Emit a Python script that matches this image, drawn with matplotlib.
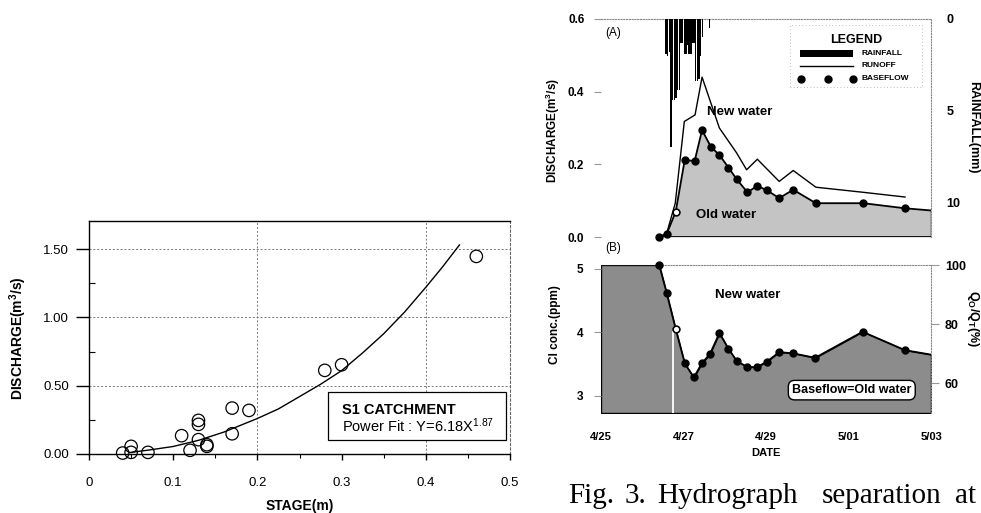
import numpy as np
import matplotlib
matplotlib.use('Agg')
import matplotlib.pyplot as plt
from matplotlib.patches import Rectangle

plt.rcParams['font.family'] = ['Liberation Sans', 'DejaVu Sans']
plt.rcParams['mathtext.default'] = 'regular'

# ---- rating curve data (left panel)
stage = [0.04, 0.05, 0.05, 0.07, 0.11, 0.12, 0.13, 0.13, 0.13, 0.14, 0.14, 0.17, 0.17, 0.19, 0.28, 0.30, 0.46]
discharge = [0.007, 0.056, 0.012, 0.012, 0.134, 0.027, 0.246, 0.217, 0.105, 0.056, 0.068, 0.336, 0.148, 0.319, 0.612, 0.653, 1.446]
# fitted curve as drawn
fit_x = [0.05, 0.07, 0.10, 0.13, 0.16, 0.20, 0.225, 0.25, 0.275, 0.30, 0.325, 0.35, 0.375, 0.40, 0.42, 0.44]
fit_y = [0.012, 0.028, 0.055, 0.10, 0.16, 0.26, 0.33, 0.42, 0.51, 0.61, 0.74, 0.88, 1.04, 1.22, 1.37, 1.53]
stage_ticks = [0, 0.1, 0.2, 0.3, 0.4, 0.5]
stage_labels = ['0', '0.1', '0.2', '0.3', '0.4', '0.5']
q_ticks = [0, 0.5, 1.0, 1.5]
q_labels = ['0.00', '0.50', '1.00', '1.50']
grid_x = [0.2, 0.4]

# ---- hydrograph (days after 4/25 00:00)
base_day = [1.41, 1.59, 1.81, 2.03, 2.27, 2.45, 2.67, 2.87, 3.09, 3.29, 3.55, 3.79, 4.03, 4.32, 4.66, 5.21, 6.36, 7.37, 8.0]
base_q = [0.0, 0.008, 0.069, 0.212, 0.209, 0.294, 0.247, 0.226, 0.191, 0.159, 0.123, 0.141, 0.128, 0.107, 0.130, 0.093, 0.093, 0.079, 0.073]
run_day = [1.41, 1.59, 1.80, 2.02, 2.28, 2.45, 2.87, 3.29, 3.53, 3.79, 4.32, 4.66, 5.21, 6.36, 7.37]
run_q = [0.0, 0.009, 0.093, 0.318, 0.336, 0.44, 0.30, 0.231, 0.185, 0.214, 0.153, 0.183, 0.137, 0.123, 0.110]
rain_day = [1.56, 1.60, 1.64, 1.68, 1.72, 1.76, 1.80, 1.84, 1.88, 1.92, 1.96, 2.00, 2.04, 2.08,
            2.12, 2.16, 2.20, 2.24, 2.28, 2.32, 2.36, 2.40, 2.44, 2.62]
rain_mm = [1.9, 2.0, 1.8, 7.0, 4.4, 4.4, 4.3, 3.9, 3.9, 1.3, 1.3, 1.9, 1.9, 1.4,
           1.9, 1.9, 1.3, 1.3, 3.4, 3.4, 3.3, 2.0, 1.0, 0.5]

cl_day = [0.0, 1.41, 1.59, 1.81, 2.03, 2.25, 2.44, 2.64, 2.87, 3.09, 3.29, 3.53, 3.77, 4.02, 4.32, 4.66, 5.19, 6.34, 7.37, 8.0]
cl_ppm = [5.06, 5.06, 4.62, 4.05, 3.51, 3.29, 3.51, 3.66, 3.99, 3.74, 3.55, 3.46, 3.45, 3.54, 3.69, 3.67, 3.60, 4.01, 3.72, 3.65]
date_ticks = [0, 2, 4, 6, 8]
date_labels = ['4/25', '4/27', '4/29', '5/01', '5/03']

W, H = 981, 513
fig = plt.figure(figsize=(W / 100, H / 100), dpi=100)


def fx(x):
    return x / W


def fy(y):
    return 1 - y / H


def box(x0, y0, x1, y1):
    return [fx(x0), fy(y1), fx(x1) - fx(x0), fy(y0) - fy(y1)]


def dotted_spines(ax):
    for s in ['left', 'bottom']:
        ax.spines[s].set_visible(False)
    for s in ['top', 'right']:
        ax.spines[s].set_linestyle((0, (1, 1.5)))
        ax.spines[s].set_color('#888888')
        ax.spines[s].set_linewidth(0.8)


# ================= left panel
ax1 = fig.add_axes(box(89, 221, 510, 454))
ax1.set_xlim(0, 0.5)
ax1.set_ylim(0, 1.705)
ax1.plot(fit_x, fit_y, color='black', lw=1.0, zorder=2)
ax1.scatter(stage, discharge, s=80, facecolors='none', edgecolors='black', lw=0.9, clip_on=False, zorder=3)
ax1.set_xticks(stage_ticks)
ax1.set_xticklabels(stage_labels)
ax1.set_yticks(q_ticks)
ax1.set_yticklabels(q_labels)
ax1.set_xticks([0.05, 0.15, 0.25, 0.35, 0.45], minor=True)
ax1.set_yticks([0.25, 0.75, 1.25], minor=True)
ax1.tick_params(axis='y', which='major', length=9.5, width=1, pad=5, labelsize=9.5)
ax1.tick_params(axis='x', which='major', length=4.5, width=1, pad=12, labelsize=9.5)
ax1.tick_params(axis='y', which='minor', direction='in', length=4, width=0.8)
ax1.tick_params(axis='x', which='minor', direction='out', length=3, width=0.8)
for v in q_ticks[1:]:
    ax1.axhline(v, color='#777777', lw=0.7, ls=(0, (2, 2)), zorder=1)
for v in grid_x:
    ax1.axvline(v, color='#777777', lw=0.7, ls=(0, (2, 2)), zorder=1)
ax1.spines['right'].set_linestyle((0, (2, 2)))
ax1.spines['right'].set_color('#666666')
ax1.spines['right'].set_linewidth(0.8)
for s in ['left', 'bottom', 'top']:
    ax1.spines[s].set_linewidth(1.0)
ax1.set_xlabel('STAGE(m)', fontsize=10, fontweight='bold', labelpad=7)
fig.text(fx(18), fy(338), 'DISCHARGE(m$^{3}$/s)', fontsize=10, fontweight='bold',
         rotation=90, ha='center', va='center')

# fit label box
fig.patches.append(Rectangle((fx(328), fy(440)), fx(506) - fx(328), fy(392) - fy(440),
                             transform=fig.transFigure, facecolor='white', edgecolor='black', lw=0.9, zorder=5))
fig.text(fx(342), fy(410), 'S1 CATCHMENT', fontsize=10.5, fontweight='bold', va='center', ha='left', zorder=6)
fig.text(fx(342), fy(426), 'Power Fit : Y=6.18X$^{1.87}$', fontsize=10.5, va='center', ha='left', zorder=6)

# ================= top right panel
ax2 = fig.add_axes(box(601, 19, 931, 237))
ax2.set_xlim(0, 8)
ax2.set_ylim(0, 0.6)
ax2.fill_between(base_day, base_q, 0, color='#c4c4c4', lw=0, zorder=1)
ax2.plot([base_day[0], base_day[-1]], [0, 0], color='black', lw=1.3, zorder=2)
ax2.plot([base_day[-1], base_day[-1]], [0, base_q[-1]], color='black', lw=1.0, zorder=2)
ax2.plot(run_day, run_q, color='black', lw=1.0, zorder=3)
ax2.plot(base_day, base_q, color='black', lw=1.3, zorder=3)
ax2.plot(base_day[:-1], base_q[:-1], ls='none', marker='o', ms=5, color='black', zorder=4, clip_on=False)
ax2.plot(base_day[2], base_q[2], ls='none', marker='o', ms=4.5, mfc='white', mec='black', mew=0.8, zorder=5)
ax2.set_yticks([0.0, 0.2, 0.4, 0.6])
ax2.set_yticklabels(['0.0', '0.2', '0.4', '0.6'], fontweight='bold')
ax2.set_xticks([])
ax2.tick_params(axis='y', length=5, color='#999999', pad=7, labelsize=8.5)
dotted_spines(ax2)
fig.text(fx(553), fy(130), 'DISCHARGE(m$^{3}$/s)', fontsize=8.5, fontweight='bold',
         rotation=90, ha='center', va='center')
ax2.text(3.37, 0.344, 'New water', fontsize=9.5, fontweight='bold', ha='center', va='center', zorder=6)
ax2.text(3.03, 0.06, 'Old water', fontsize=9.5, fontweight='bold', ha='center', va='center', zorder=6)

ax2r = ax2.twinx()
ax2r.set_ylim(11.9, 0)
ax2r.bar(rain_day, rain_mm, width=0.034, align='edge', color='black', zorder=2)
ax2r.set_yticks([0, 5, 10])
ax2r.set_yticklabels(['0', '5', '10'], fontweight='bold')
ax2r.tick_params(axis='y', length=0, pad=11, labelsize=9)
for s in ['left', 'bottom', 'top', 'right']:
    ax2r.spines[s].set_visible(False)
fig.text(fx(973), fy(127), 'RAINFALL(mm)', fontsize=9, fontweight='bold',
         rotation=270, ha='center', va='center')

# legend (drawn by hand as in the original)
fig.patches.append(Rectangle((fx(790), fy(87)), fx(922) - fx(790), fy(25) - fy(87),
                             transform=fig.transFigure, facecolor='white', edgecolor='#aaaaaa',
                             lw=0.6, ls=(0, (1, 3)), zorder=5))
fig.text(fx(856), fy(40), 'LEGEND', fontsize=9, fontweight='bold', ha='center', va='center', zorder=6)
fig.patches.append(Rectangle((fx(800), fy(57)), fx(853) - fx(800), fy(50) - fy(57),
                             transform=fig.transFigure, facecolor='black', lw=0, zorder=6))
fig.lines.append(plt.Line2D([fx(800), fx(853)], [fy(65.5), fy(65.5)], transform=fig.transFigure,
                            color='black', lw=1.0, zorder=6))
fig.lines.append(plt.Line2D([fx(801), fx(828), fx(853)], [fy(79), fy(79), fy(79)], transform=fig.transFigure,
                            ls='none', marker='o', ms=5, color='black', zorder=6))
for yy, t in [(53.5, 'RAINFALL'), (65.5, 'RUNOFF'), (79, 'BASEFLOW')]:
    fig.text(fx(862), fy(yy), t, fontsize=6, fontweight='bold', ha='left', va='center', zorder=6)

fig.text(fx(613), fy(33), '(A)', fontsize=8.5, ha='center', va='center')
fig.text(fx(613), fy(248), '(B)', fontsize=8.5, ha='center', va='center')

# ================= bottom right panel
ax3 = fig.add_axes(box(601, 265, 931, 413))
ax3.set_xlim(0, 8)
ax3.set_ylim(2.73, 5.06)
ax3.fill_between(cl_day, cl_ppm, 2.73, facecolor='#8c8c8c', edgecolor='black', lw=1.0, zorder=1)
ax3.vlines(1.75, 2.73, 4.02, color='white', lw=1.3, zorder=2)
ax3.plot(cl_day, cl_ppm, color='black', lw=1.2, zorder=3)
ax3.plot(cl_day[1:-1], cl_ppm[1:-1], ls='none', marker='o', ms=5, color='black', zorder=4, clip_on=False)
ax3.plot(cl_day[3], cl_ppm[3], ls='none', marker='o', ms=4.5, mfc='white', mec='black', mew=0.8, zorder=5)
ax3.set_xticks(date_ticks)
ax3.set_xticklabels(date_labels, fontweight='bold')
ax3.tick_params(axis='x', length=0, pad=14, labelsize=8)
ax3.set_yticks([3, 4, 5])
ax3.set_yticklabels(['3', '4', '5'], fontweight='bold')
ax3.tick_params(axis='y', length=5, color='#999999', pad=8, labelsize=8.5)
dotted_spines(ax3)
ax3.set_xlabel('DATE', fontsize=8, fontweight='bold', labelpad=4)
fig.text(fx(555), fy(325), 'Cl conc.(ppm)', fontsize=8.5, fontweight='bold',
         rotation=90, ha='center', va='center')
ax3.text(3.56, 4.59, 'New water', fontsize=9.5, fontweight='bold', ha='center', va='center', zorder=6)
ax3.text(6.08, 3.09, 'Baseflow=Old water', fontsize=9, fontweight='bold', ha='center', va='center', zorder=6,
         bbox=dict(boxstyle='round,pad=0.3,rounding_size=0.5', facecolor='white', edgecolor='black', lw=1.0))

ax3r = ax3.twinx()
ax3r.set_ylim(50, 100)
ax3r.set_yticks([60, 80, 100])
ax3r.set_yticklabels(['60', '80', '100'], fontweight='bold')
ax3r.tick_params(axis='y', length=6, color='#999999', pad=4, labelsize=9)
for s in ['left', 'bottom', 'top', 'right']:
    ax3r.spines[s].set_visible(False)
fig.text(fx(973), fy(318), 'Q$_O$/Q$_T$(%)', fontsize=9, fontweight='bold',
         rotation=270, ha='center', va='center')

# ================= caption (justified words)
for xw, word in [(568, 'Fig.'), (625, '3.'), (657, 'Hydrograph'), (822, 'separation'), (955, 'at')]:
    fig.text(fx(xw), fy(503), word, family='Liberation Serif', fontsize=21, ha='left', va='baseline')

fig.savefig('out.png', dpi=100)
